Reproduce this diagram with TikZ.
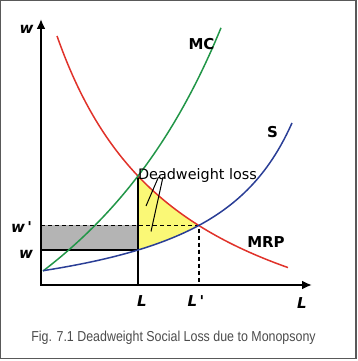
\documentclass[tikz,border=0pt]{standalone}
\usepackage{fontspec}
\usepackage{graphicx}
\setmainfont{DejaVu Sans}
\newfontfamily\capfont{Liberation Sans}
\usetikzlibrary{arrows.meta,intersections}
\definecolor{mrpred}{RGB}{224,50,42}
\definecolor{mcgreen}{RGB}{34,150,72}
\definecolor{sblue}{RGB}{42,62,150}
\definecolor{dwlyellow}{RGB}{250,248,118}
\definecolor{wagegray}{RGB}{180,180,180}
\definecolor{capgray}{RGB}{75,75,75}
\tikzset{
  curve/.style={line width=1.5pt},
  lbl/.style={font=\bfseries\fontsize{15}{15}\selectfont},
  axlbl/.style={font=\bfseries\itshape\fontsize{15}{15}\selectfont},
  guide/.style={line width=1.5pt,dash pattern=on 4pt off 3pt},
}
\begin{document}
\begin{tikzpicture}[x=10pt,y=10pt]
\useasboundingbox (-4.1,-7.6) rectangle (31.7,28.5);
\draw[gray!70!black,line width=1.5pt] (-4.05,-7.35) rectangle (31.5,28.45);
% the three curves, first as paths only
\path[name path=mrp] plot[domain=1.6:24.7,samples=90] (\x,{-10.89+451/(\x+11)});
\path[name path=mc] plot[domain=0.2:18,samples=90] (\x,{1.4+1256/(40.7-\x)-1256/40.5});
\path[name path=sup] plot[domain=0.2:25.1,samples=90] (\x,{1.4+179.25/(34.03-\x)-179.25/34.03});
\path[name intersections={of=mc and mrp,by=A}];
\path[name intersections={of=sup and mrp,by=C}];
\path[name path=vl] (A) -- (A |- 0,0);
\path[name intersections={of=sup and vl,by=B}];
% deadweight loss
\begin{scope}
\clip (A |- 0,0) rectangle (30,28);
\clip plot[domain=1.6:24.7,samples=90] (\x,{-10.89+451/(\x+11)}) -- (24.7,0) -- (1.6,0) -- cycle;
\fill[dwlyellow] plot[domain=0.2:25.1,samples=90] (\x,{1.4+179.25/(34.03-\x)-179.25/34.03}) -- (25.1,28) -- (0.2,28) -- cycle;
\end{scope}
\fill[wagegray] (B -| 0,0) rectangle (C -| A);
\draw[line width=1.2pt] (A) -- (A |- 0,0);
\draw[line width=1.2pt] (B -| 0,0) -- (B);
\draw[guide] (C -| 0,0) -- (C) -- (C |- 0,0);
% curves
\draw[curve,mrpred] plot[domain=1.6:24.7,samples=90] (\x,{-10.89+451/(\x+11)});
\draw[curve,mcgreen] plot[domain=0.2:18,samples=90] (\x,{1.4+1256/(40.7-\x)-1256/40.5});
\draw[curve,sblue] plot[domain=0.2:25.1,samples=90] (\x,{1.4+179.25/(34.03-\x)-179.25/34.03});
% axes
\draw[line width=2.6pt,{Latex[length=10pt,width=9pt]}-{Latex[length=10pt,width=9pt]}] (0,26.6) -- (0,0) -- (27.1,0);
% labels
\node[axlbl] (wtop) at (-1.45,25.6) {w};
\node[axlbl,anchor=east] (wprime) at (-0.55,5.75) {w\,\textquotesingle};
\node[axlbl] (wlow) at (-1.5,3.1) {w};
\node[axlbl] (llab) at (10.1,-1.6) {L};
\node[axlbl] (lprime) at (15.5,-1.6) {L\,\textquotesingle};
\node[axlbl] (laxis) at (26.1,-1.8) {L};
\node[lbl] (mclab) at (16.05,24.05) {MC};
\node[lbl] (slab) at (23.15,15.3) {S};
\node[lbl] (mrplab) at (22.5,4.25) {MRP};
\node[font=\fontsize{14.4}{14.4}\selectfont,anchor=base] (dwl) at (15.65,10.55) {Deadweight loss};
\coordinate (ta) at (11.75,10.8);
\coordinate (tb) at (12.2,10.8);
\coordinate (ea) at (10.5,7.9);
\coordinate (eb) at (11.0,5.35);
\draw[line width=1pt] (ta) -- (ea);
\draw[line width=1pt] (tb) -- (eb);
\node[font=\capfont\fontsize{14.4}{14.4}\selectfont,text=capgray] (caption) at (13.25,-5.25) {\scalebox{0.863}[1]{Fig. 7.1 Deadweight Social Loss due to Monopsony}};
\end{tikzpicture}
\end{document}
